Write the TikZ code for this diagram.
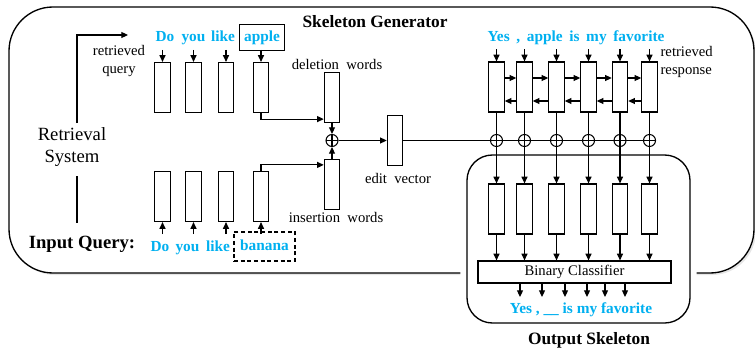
\documentclass[tikz,border=0pt]{standalone}
\usepackage{fontspec}
\setmainfont{Liberation Serif}
\usepackage{tikz}
\usetikzlibrary{arrows.meta,shadows}
\definecolor{wordblue}{RGB}{0,176,240}

\begin{document}
\begin{tikzpicture}[x=0.75pt,y=-0.75pt,
            cell/.style={draw, line width=0.9pt, fill=white, minimum width=11.5pt,
                minimum height=37.5pt, inner sep=0pt},
            word/.style={font=\bfseries\fontsize{11.5}{13}\selectfont, text=wordblue,
                text height=8pt, text depth=2.5pt, inner sep=1pt},
            lbl/.style={font=\fontsize{11}{14}\selectfont, inner sep=1pt},
            head/.style={font=\bfseries\fontsize{13}{15}\selectfont},
            arr/.style={-{Triangle[length=5pt,width=4.5pt]}, line width=0.8pt},
            osum/.style={circle, draw, line width=0.8pt, fill=white, minimum size=9pt,
                inner sep=0pt, path picture={\draw[line width=0.8pt]
                (path picture bounding box.north) -- (path picture bounding box.south)
                (path picture bounding box.west) -- (path picture bounding box.east);}}]
            \useasboundingbox (0,0) rectangle (755,349);

            % frames
            \draw[line width=1pt, rounded corners=33pt, fill=white,
                drop shadow={shadow xshift=1.5pt, shadow yshift=-1.5pt, opacity=0.2}]
                (9,7) rectangle (754,273);
            \draw[line width=1pt, rounded corners=19pt, fill=white,
                preaction={draw=white, line width=10pt}]
                (467,155) rectangle (690,323);
            \node[head] (sg) at (375,22) {Skeleton Generator};
            \node[head] (osk) at (589,340) {Output Skeleton};

            % retrieval
            \node[font=\fontsize{14}{16}\selectfont, align=center] (rs) at (72,147) {Retrieval\\System};
            \node[font=\bfseries\fontsize{14}{16}\selectfont] (iq) at (82,244) {Input Query:};
            \coordinate (rq0) at (128,35);
            \draw[arr] ([xshift=3.75pt]rs.north) |- (rq0);
            \draw[line width=0.8pt, shorten <=4pt, shorten >=6pt]
                ([xshift=3.75pt]rs.south) -- ([xshift=3.75pt]rs.south |- iq.north);
            \node[lbl, align=center] (rql) at (119,61) {retrieved\\query};

            % query words
            \node[word] (w1) at (165,38.3) {Do};
            \node[word] (w2) at (193.5,38.3) {you};
            \node[word] (w3) at (223,38.3) {like};
            \node[word, draw=black, line width=0.9pt, inner xsep=3.75pt, inner ysep=4.5pt] (w4) at (262,37.5) {apple};
            \node[word] (v1) at (160,248.3) {Do};
            \node[word] (v2) at (187.5,248.3) {you};
            \node[word] (v3) at (218,248.3) {like};
            \node[word, draw=black, line width=0.9pt, dash pattern=on 3pt off 2pt,
                inner xsep=4.7pt, inner ysep=5.6pt] (v4) at (264.5,246.5) {banana};

            \foreach \x [count=\i] in {162.5,193.5,226,261} {
                \node[cell] (q\i) at (\x,87.5) {};
                \draw[arr] ([yshift=9pt]q\i.north) -- (q\i.north);
                \node[cell] (p\i) at (\x,196.5) {};
                \draw[arr] ([yshift=-9pt]p\i.south) -- (p\i.south);
            }

            % edit vector
            \node[cell] (del) at (332,97.5) {};
            \node[cell] (ins) at (332,184.5) {};
            \node[lbl] (dl) at (337,64) {deletion\ \ words};
            \node[lbl] (il) at (336,217) {insertion\ \ words};
            \node[osum] (sum) at (332,140.5) {};
            \node[cell] (ev) at (395,140.5) {};
            \node[lbl] (evl) at (398,178) {edit\ \ vector};
            \draw[arr] (q4.south) |- ([yshift=3pt]del.south west);
            \draw[arr] (p4.north) |- ([yshift=-4.5pt]ins.north west);
            \draw[arr] (del) -- (sum);
            \draw[arr] (ins) -- (sum);
            \draw[arr] (sum) -- (ev);

            % response side
            \node[word] (resp) at (576,38.3) {\spaceskip=5pt Yes , apple is my favorite};
            \node[lbl, align=left, anchor=west] (rrl) at (659,62) {retrieved\\response};
            \node[draw, line width=0.9pt, minimum width=144.75pt, minimum height=16.5pt,
                inner sep=0pt, font=\fontsize{11}{13}\selectfont] (bc) at (574.5,272) {Binary Classifier};
            \foreach \x [count=\i] in {496.5,524.5,556.5,588.5,620,649.5} {
                \node[cell] (r\i) at (\x,87) {};
                \draw[arr] ([yshift=9pt]r\i.north) -- (r\i.north);
                \node[cell] (s\i) at (\x,209) {};
            }
            \draw[line width=0.8pt] (ev.east) -- (649.5,140.5) coordinate (hl);
            \foreach \x [count=\i] in {496.5,524.5,556.5,588.5,620,649.5} {
                \node[osum] (o\i) at (\x,140.5) {};
                \draw[line width=0.8pt] (r\i) -- (o\i);
                \draw[arr] (o\i) -- (s\i);
                \draw[arr] (s\i) -- (s\i |- bc.north);
            }
            \foreach \i/\j in {1/2,2/3,3/4,4/5,5/6} {
                \draw[arr] ([yshift=6.75pt]r\i.east) -- ([yshift=6.75pt]r\j.west);
                \draw[arr] ([yshift=-10.5pt]r\j.west) -- ([yshift=-10.5pt]r\i.east);
            }

            % output skeleton
            \node[word] (sk) at (581,310) {Yes , \_\_ is my favorite};
            \foreach \x [count=\i] in {520,542,565,587,605,625} {
                \coordinate (t\i) at (\x,297);
                \draw[arr] (t\i |- bc.south) -- (t\i);
            }

        \end{tikzpicture}
\end{document}
